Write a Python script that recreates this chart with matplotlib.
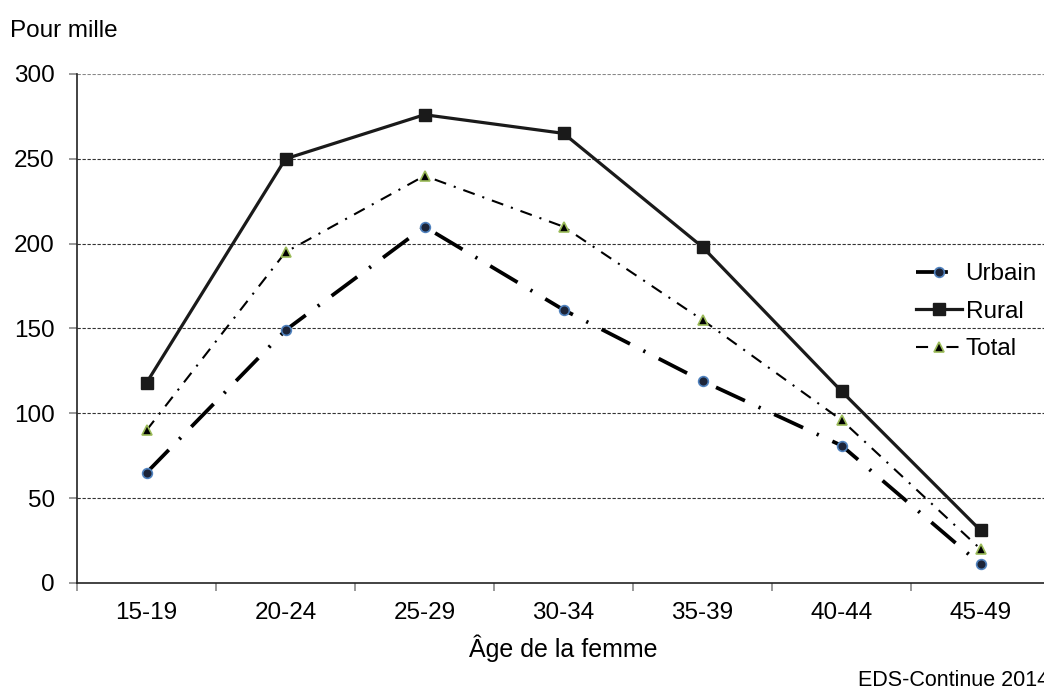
import numpy as np
import matplotlib.pyplot as plt

# Taux de fécondité par âge (pour mille)
ages = ['15-19', '20-24', '25-29', '30-34', '35-39', '40-44', '45-49']
urbain = [65, 149, 210, 161, 119, 81, 11]
rural = [118, 250, 276, 265, 198, 113, 31]
total = [90, 195, 240, 210, 155, 96, 20]

plt.rcParams['font.family'] = ['Liberation Sans', 'DejaVu Sans']

fig = plt.figure(figsize=(10.44, 6.87), dpi=100)
ax = fig.add_axes([0.0738, 0.1514, 0.932, 0.7409])

x = np.arange(len(ages))

ax.plot(x, urbain, color='black', lw=2.7, dashes=(8.5, 4, 0.6, 4),
        marker='o', ms=7, mfc='#1c2438', mec='#4f81bd', mew=1.2,
        label='Urbain', zorder=4)
ax.plot(x, rural, color='#1a1a1a', lw=2.3, marker='s', ms=8,
        mfc='#1a1a1a', mec='#1a1a1a', label='Rural', zorder=4)
ax.plot(x, total, color='black', lw=1.5, dashes=(5.8, 3.9, 1, 3.9),
        marker='^', ms=7, mfc='black', mec='#9bbb59', mew=1.2,
        label='Total', zorder=4)

ax.set_xlim(-0.5, 6.5)
ax.set_ylim(0, 300)
ax.set_yticks(range(0, 301, 50))
ax.set_xticks(x)
ax.set_xticklabels(ages)
ax.set_xticks(np.arange(-0.5, 7, 1), minor=True)
ax.tick_params(axis='x', which='major', length=0, pad=14, labelsize=17.5)
ax.tick_params(axis='x', which='minor', length=6, color='#888888', width=1.2)
ax.tick_params(axis='y', length=6, color='#888888', width=1.2, pad=10,
               labelsize=17.5)

for v in range(50, 301, 50):
    ax.axhline(v, color='#333333' if v < 300 else '#888888', lw=0.8,
               dashes=(3, 1.5), zorder=1)

for s in ['top', 'right']:
    ax.spines[s].set_visible(False)
ax.spines['left'].set_color('#222222')
ax.spines['bottom'].set_color('#222222')
ax.spines['left'].set_linewidth(1.2)
ax.spines['bottom'].set_linewidth(1.2)

ax.set_xlabel('Âge de la femme', fontsize=18, labelpad=7)
fig.text(0.01, 0.955, 'Pour mille', fontsize=17.5, ha='left', va='center')
fig.text(0.822, 0.002, 'EDS-Continue 2014', fontsize=15.5, ha='left',
         va='baseline')

ax.legend(loc='center left', bbox_to_anchor=(0.852, 0.533), frameon=False,
          fontsize=17.5, handlelength=1.9, handletextpad=0.15,
          labelspacing=0.64, borderaxespad=0)

fig.savefig('out.png', dpi=100)
